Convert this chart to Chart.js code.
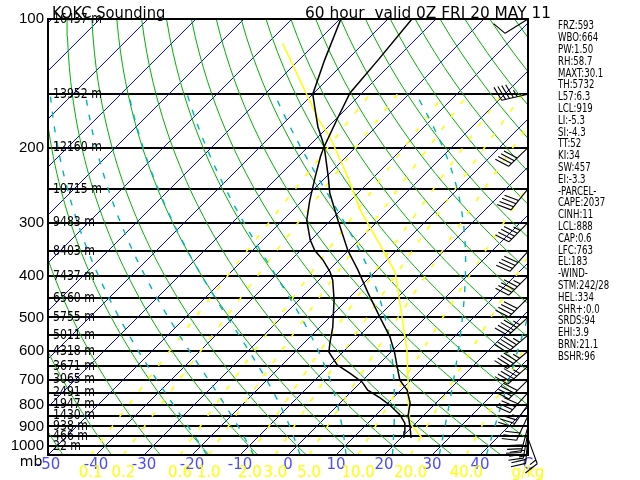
<!DOCTYPE html>
<html><head><meta charset="utf-8">
<script src="https://cdn.jsdelivr.net/npm/chart.js@4.4.0/dist/chart.umd.min.js"></script>
<style>html,body{margin:0;padding:0;background:#fff}canvas{display:block}</style>
</head><body>
<canvas id="c" width="640" height="480"></canvas>
<script>
// ---------- values ----------
const pressureLevels = [100,150,200,250,300,350,400,450,500,550,600,650,700,750,800,850,900,950,1000];
const levelHeights   = [16437,13952,12160,10715,9483,8403,7437,6560,5755,5011,4318,3671,3065,2491,1947,1430,938,466,22];
const tempTicks      = [-50,-40,-30,-20,-10,0,10,20,30,40,50];
const mixRatios      = [0.1,0.2,0.6,1,2,3,5,10,20,40];
const mixLabels      = ['0.1','0.2','0.6','1.0','2.0','3.0','5.0','10.0','20.0','40.0'];
const isotherms      = [-140,-130,-120,-110,-100,-90,-80,-70,-60,-50,-40,-30,-20,-10,0,10,20,30,40,50];
const dryAdiabats    = [-50,-40,-30,-20,-10,0,10,20,30,40,50,60,70,80,90,100,110,120,130,140,150,160,170,180];
const moistAdiabats  = [-20,-10,0,10,20,30,40];

const tempP  = [958,903,846,793,740,701,653,606,556,499,438,387,348,296,256,234,199,171,149,125,100];
const tempT  = [22.1,19.6,16.7,14.6,11.3,7.7,4.4,1.0,-3.3,-9.6,-17.1,-24.0,-30.2,-38.5,-45.8,-49.6,-56.7,-59.8,-62.5,-63.5,-65.0];
const dewP   = [958,928,884,846,824,802,772,740,708,675,646,603,574,527,455,409,391,367,348,329,296,266,234,210,199,192,179,163,150,125,100];
const dewT   = [20.6,19.4,17.7,15.0,12.9,10.8,7.3,3.1,0.2,-4.2,-8.5,-12.9,-14.6,-17.3,-22.7,-27.1,-29.4,-33.3,-37.1,-40.2,-45.0,-48.5,-52.3,-55.4,-56.7,-58.5,-62.1,-66.3,-70.0,-74.6,-79.8];
const parcelP = [958,903,884,793,701,596,480,393,357,280,230,189,172,114];
const parcelT = [24.4,20.2,18.8,14.2,9.4,2.9,-6.7,-15.6,-21.3,-36.0,-46.5,-57.5,-63.5,-86.9];

const windP   = [100,150,200,250,300,350,400,450,500,550,600,650,700,750,800,850,900,925,950,960];
const windDir = [238,257,226,219,225,222,225,225,228,230,230,228,225,222,215,205,195,190,185,160];
const windSpd = [10,45,40,40,45,40,45,40,45,45,45,45,40,40,35,30,30,30,25,15];

const titleLeft  = 'KOKC Sounding';
const titleRight = '60 hour  valid 0Z FRI 20 MAY 11';
const statLines = ['FRZ:593','WBO:664','PW:1.50','RH:58.7','MAXT:30.1','TH:5732','L57:6.3','LCL:919','LI:-5.3','SI:-4.3','TT:52','KI:34','SW:457','EI:-3.3','-PARCEL-','CAPE:2037','CINH:11','LCL:888','CAP:0.6','LFC:763','EL:183','-WIND-','STM:242/28','HEL:334','SHR+:0.0','SRDS:94','EHI:3.9','BRN:21.1','BSHR:96'];

// ---------- diagram geometry / physics ----------
const PBOT = 1050, PTOP = 100, SKEW = 38.625;
const FONT = "'DejaVu Sans',sans-serif";
const TICKFONT = "'Liberation Sans',Arial,sans-serif";
const skewX = (T, p) => T + SKEW * Math.log(PBOT / p);
const es = Tc => 6.112 * Math.exp(17.67 * Tc / (Tc + 243.5));
const tdFromE = e => { const l = Math.log(e / 6.112); return 243.5 * l / (17.67 - l); };
function moistRate(p, Tc) {
  const T = Tc + 273.15, e = es(Tc), rs = 0.622 * e / (p - e), Lv = 2.501e6;
  return (287.04 * T + Lv * rs) / (1005.7 + Lv * Lv * rs * 0.622 / (287.04 * T * T)) / p;
}
function pressures(top, step) { const a = []; for (let p = PBOT; p >= top - 0.01; p -= step) a.push(p); return a; }

const datasets = [];
function addLine(points, color, width, dash, order) {
  datasets.push({data: points, showLine: true, borderColor: color, borderWidth: width, borderDash: dash || [],
    pointRadius: 0, fill: false, tension: 0, order: order});
}
isotherms.forEach(T => addLine([PBOT, PTOP].map(p => ({x: skewX(T, p), y: p})), '#0000c0', 1, null, 30));
dryAdiabats.forEach(th => addLine(pressures(PTOP, 10).map(p => {
  const T = (th + 273.15) * Math.pow(p / 1000, 0.2857) - 273.15; return {x: skewX(T, p), y: p};
}), '#00b000', 1, null, 29));
mixRatios.forEach(w => addLine(pressures(150, 10).map(p => ({x: skewX(tdFromE(w * p / (622 + w)), p), y: p})),
  '#ffff00', 1.6, [5, 11], 28));
moistAdiabats.forEach(tw => {
  const up = []; let T = tw;
  for (let p = 1000; p >= 150; p -= 5) { up.push({x: skewX(T, p), y: p});
    const k1 = moistRate(p, T), k2 = moistRate(p - 2.5, T - 2.5 * k1); T -= 5 * k2; }
  const down = []; T = tw;
  for (let p = 1000; p <= PBOT; p += 5) { down.push({x: skewX(T, p), y: p}); T += 5 * moistRate(p, T); }
  addLine(down.reverse().concat(up.slice(1)), '#00b4b4', 1.4, [6, 9], 27);
});
addLine(parcelP.map((p, i) => ({x: skewX(parcelT[i], p), y: p})), '#ffff00', 1.5, null, 2);
addLine(tempP.map((p, i) => ({x: skewX(tempT[i], p), y: p})), '#000000', 1.5, null, 1);
addLine(dewP.map((p, i) => ({x: skewX(dewT[i], p), y: p})), '#000000', 1.5, null, 1);

function drawBarb(ctx, x0, y0, dir, spd) {
  const L = 27, bl = 15, gap = 4, r = dir * Math.PI / 180;
  const ux = Math.sin(r), uy = -Math.cos(r);
  const tx = x0 + ux * L, ty = y0 + uy * L;
  const a = Math.atan2(uy, ux) + 72 * Math.PI / 180, bx = Math.cos(a), by = Math.sin(a);
  ctx.beginPath(); ctx.moveTo(x0, y0); ctx.lineTo(tx, ty);
  let s = Math.round(spd / 5) * 5, d = 0;
  while (s >= 10) { const px = tx - ux * d, py = ty - uy * d; ctx.moveTo(px, py); ctx.lineTo(px + bx * bl, py + by * bl); d += gap; s -= 10; }
  if (s >= 5) { if (d === 0) d = gap; const px = tx - ux * d, py = ty - uy * d; ctx.moveTo(px, py); ctx.lineTo(px + bx * bl / 2, py + by * bl / 2); }
  ctx.stroke();
}
function squeezedText(ctx, text, x, y, sx) {
  ctx.save(); ctx.translate(x, y); ctx.scale(sx, 1); ctx.fillText(text, 0, 0); ctx.restore();
}

const overlay = {
  id: 'overlay',
  afterDraw(chart) {
    const ctx = chart.ctx, ca = chart.chartArea, xs = chart.scales.x, ys = chart.scales.y;
    ctx.save();
    ctx.strokeStyle = '#000'; ctx.lineWidth = 2;
    ctx.strokeRect(ca.left, ca.top, ca.right - ca.left, ca.bottom - ca.top);
    ctx.fillStyle = '#000'; ctx.textBaseline = 'middle'; ctx.textAlign = 'left';
    ctx.font = '14px ' + FONT;
    pressureLevels.forEach((p, i) => squeezedText(ctx, levelHeights[i] + ' m', ca.left + 5, ys.getPixelForValue(p), 0.78));
    ctx.textAlign = 'center';
    ctx.fillText('mb', 31, 462);
    ctx.fillStyle = '#ffff00'; ctx.font = '15px ' + FONT;
    mixRatios.forEach((w, i) => ctx.fillText(mixLabels[i], xs.getPixelForValue(skewX(tdFromE(w * PBOT / (622 + w)), PBOT)), 473));
    ctx.fillText('g/kg', 528, 473);
    ctx.fillStyle = '#000'; ctx.textAlign = 'left'; ctx.textBaseline = 'alphabetic';
    ctx.font = '16px ' + FONT;
    squeezedText(ctx, titleLeft, 52, 18, 0.92);
    squeezedText(ctx, titleRight, 305, 18, 0.96);
    ctx.font = '13px ' + FONT; ctx.textBaseline = 'middle';
    statLines.forEach((t, i) => squeezedText(ctx, t, 558, 26 + i * 11.8, 0.66));
    ctx.lineWidth = 1.1; ctx.strokeStyle = '#000';
    windP.forEach((p, i) => drawBarb(ctx, ca.right, ys.getPixelForValue(p), windDir[i], windSpd[i]));
    ctx.restore();
  }
};

new Chart(document.getElementById('c').getContext('2d'), {
  type: 'scatter',
  data: {datasets},
  options: {
    responsive: false, animation: false, devicePixelRatio: 1,
    layout: {padding: {top: 19, right: 112, left: 0, bottom: 0}},
    plugins: {legend: {display: false}, tooltip: {enabled: false}},
    scales: {
      x: {type: 'linear', min: -50, max: 50,
        afterFit(s) { s.height = 25; },
        afterBuildTicks(s) { s.ticks = tempTicks.map(v => ({value: v})); },
        ticks: {autoSkip: false, maxRotation: 0, padding: 1, color: '#4b4bff', font: {family: FONT, size: 15},
          callback: v => v === 50 ? 'C' : String(v)},
        grid: {display: false, drawTicks: false}, border: {display: false}},
      y: {type: 'logarithmic', reverse: true, min: PTOP, max: PBOT,
        afterFit(s) { s.width = 48; },
        afterBuildTicks(s) { s.ticks = pressureLevels.map(v => ({value: v})); },
        ticks: {autoSkip: false, padding: 4, color: '#000', font: {family: TICKFONT, size: 15},
          callback: v => v % 100 === 0 ? String(v) : ''},
        grid: {color: '#000', lineWidth: 2, drawTicks: false}, border: {display: false}}
    }
  },
  plugins: [overlay]
});
</script>
</body></html>
